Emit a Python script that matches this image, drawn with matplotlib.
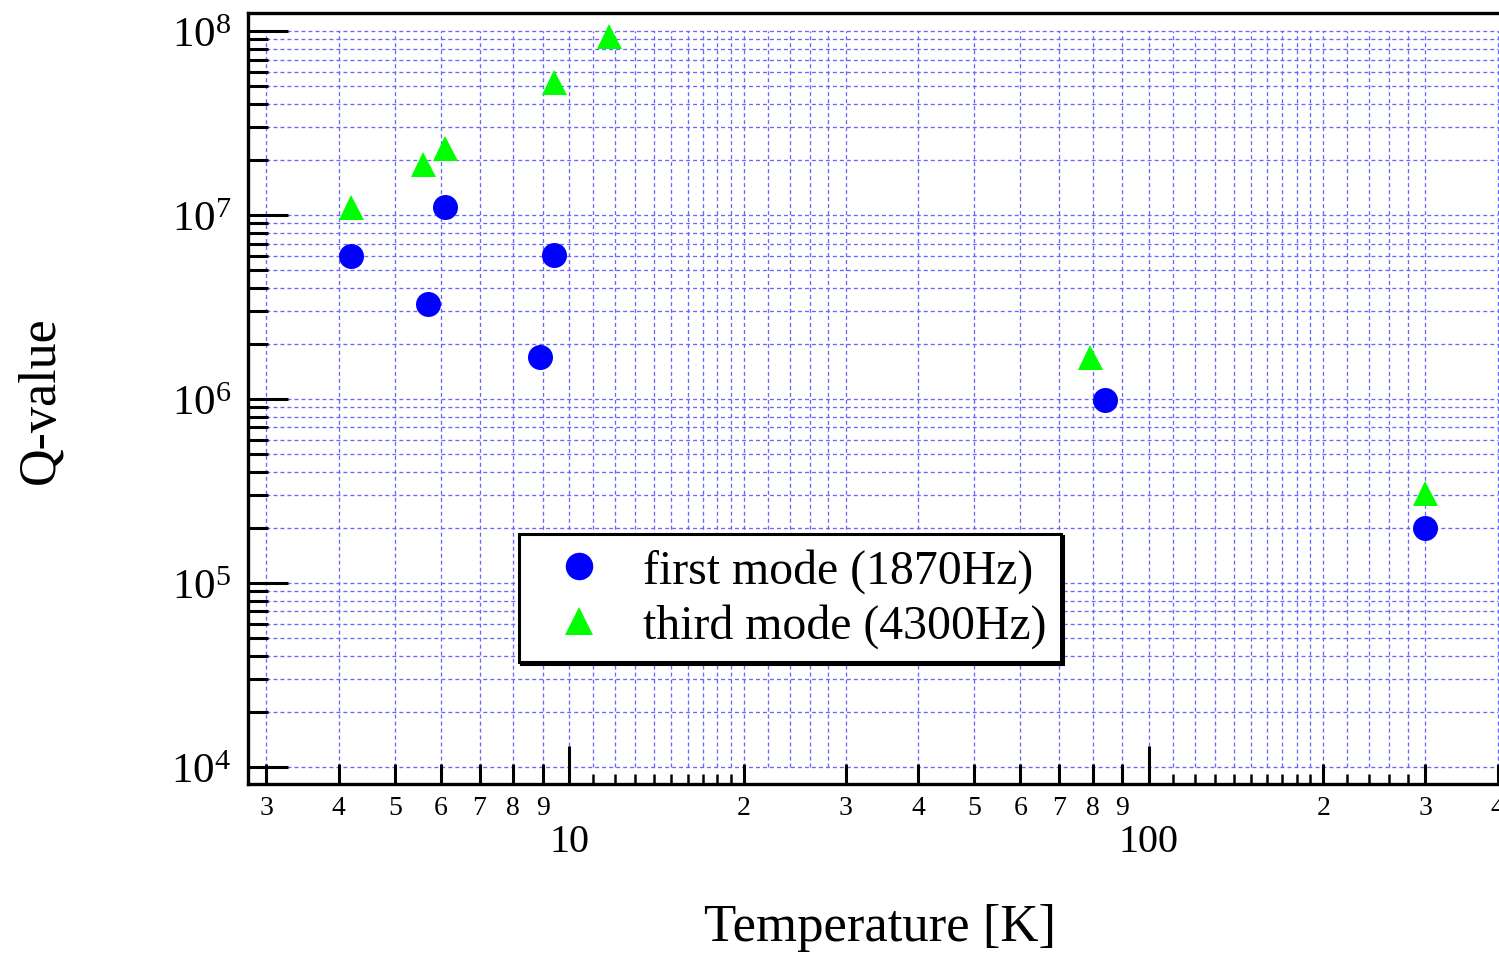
import matplotlib
matplotlib.use('Agg')
import matplotlib.pyplot as plt
from matplotlib.ticker import FixedLocator, FixedFormatter, NullFormatter, NullLocator

plt.rcParams['font.family'] = 'Liberation Serif'
plt.rcParams['mathtext.fontset'] = 'custom'
plt.rcParams['mathtext.rm'] = 'Liberation Serif'
plt.rcParams['axes.grid'] = False

# measured Q-values vs temperature
temp_first = [4.2, 5.7, 6.1, 8.9, 9.4, 84, 300]
q_first = [6.0e6, 3.3e6, 1.1e7, 1.7e6, 6.1e6, 9.9e5, 2.0e5]
temp_third = [4.2, 5.6, 6.1, 9.4, 11.7, 79, 300]
q_third = [1.1e7, 1.9e7, 2.3e7, 5.3e7, 9.4e7, 1.7e6, 3.1e5]

label_first = 'first mode (1870Hz)'
label_third = 'third mode (4300Hz)'

# tick positions and labels
x_major = [10, 100]
x_major_labels = ['10', '100']
x_minor = [3, 4, 5, 6, 7, 8, 9, 20, 30, 40, 50, 60, 70, 80, 90, 200, 300, 400]
x_minor_labels = ['3', '4', '5', '6', '7', '8', '9',
                  '2', '3', '4', '5', '6', '7', '8', '9',
                  '2', '3', '4']
x_fine = [11, 12, 13, 14, 15, 16, 17, 18, 19,
          110, 120, 130, 140, 150, 160, 170, 180, 190,
          220, 240, 260, 280]
x_grid_extra = [22, 24, 26, 28]
y_exp = [4, 5, 6, 7, 8]
y_major = [10.0 ** e for e in y_exp]
y_minor = [k * 10.0 ** e for e in y_exp[:-1] for k in range(2, 10)]

fig = plt.figure(figsize=(14.99, 9.54), dpi=100)
ax = fig.add_axes([248 / 1499, 169 / 954, 1251 / 1499, 771 / 954])
ax.set_xscale('log')
ax.set_yscale('log')
ax.set_xlim(2.79, 402)
ax.set_ylim(8.08e3, 1.253e8)

# dashed blue grid, only inside 3..400 / 1e4..1e8
grid_kw = dict(color='#6868ff', lw=0.95, linestyle=(0, (3, 2.3)), zorder=0.5)
ax.vlines(x_major + x_minor + x_fine + x_grid_extra, 1e4, 1e8, **grid_kw)
ax.hlines(y_major + y_minor, 3, 400, **grid_kw)

ax.plot(temp_first, q_first, 'o', color='#0000ff', ms=18, mew=0, ls='none',
        label=label_first, zorder=3)
ax.plot(temp_third, q_third, '^', color='#00ff00', ms=18, mew=0, ls='none',
        label=label_third, zorder=3)

ax.xaxis.set_major_locator(FixedLocator(x_major))
ax.xaxis.set_major_formatter(FixedFormatter(x_major_labels))
ax.xaxis.set_minor_locator(FixedLocator(x_minor))
ax.xaxis.set_minor_formatter(FixedFormatter(x_minor_labels))
ax.yaxis.set_major_locator(FixedLocator(y_major))
ax.yaxis.set_major_formatter(FixedFormatter([r'$\mathregular{10^{%d}}$' % e for e in y_exp]))
ax.yaxis.set_minor_locator(FixedLocator(y_minor))
ax.yaxis.set_minor_formatter(NullFormatter())

ax.tick_params(axis='y', which='major', direction='in', length=28.8, width=2.2,
               labelsize=31, pad=12)
ax.tick_params(axis='y', which='minor', direction='in', length=14.4, width=2.2)
ax.tick_params(axis='x', which='major', direction='in', length=27.4, width=2.2,
               labelsize=29, pad=28)
ax.tick_params(axis='x', which='minor', direction='in', length=14.4, width=2.2,
               labelsize=20, pad=8)
ax.grid(False, which='both')

# short unlabeled ticks between the labeled ones
sec = ax.secondary_xaxis('bottom')
sec.xaxis.set_major_locator(FixedLocator(x_fine))
sec.xaxis.set_major_formatter(NullFormatter())
sec.xaxis.set_minor_locator(NullLocator())
sec.tick_params(axis='x', which='major', direction='in', length=7.2, width=1.8)
sec.spines['bottom'].set_visible(False)
sec.grid(False, which='both')

for side in ['left', 'bottom', 'top']:
    ax.spines[side].set_linewidth(2.4)
ax.spines['right'].set_visible(False)

leg = ax.legend(loc='upper left', bbox_to_anchor=(519 / 1499, 1 - 535 / 954),
                bbox_transform=fig.transFigure, borderaxespad=0, fontsize=34.4,
                fancybox=False, edgecolor='k', framealpha=1, borderpad=0.3,
                labelspacing=0.2, handlelength=1.9, handletextpad=0.4,
                markerscale=1.1,
                shadow={'color': 'k', 'alpha': 1, 'ox': 1.5, 'oy': -1.5})
leg.get_frame().set_linewidth(2.2)
leg.set_zorder(5)

fig.text(40 / 1499, 1 - 400 / 954, 'Q-value', rotation=90, ha='center',
         va='center', fontsize=37.5)
fig.text(880 / 1499, 1 - 928 / 954, 'Temperature [K]', ha='center',
         va='center', fontsize=38)

fig.savefig('out.png', dpi=100)
